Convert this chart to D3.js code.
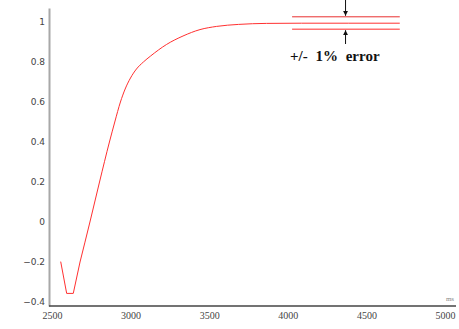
<!DOCTYPE html>
<html>
<head>
<meta charset="utf-8">
<script src="https://cdn.jsdelivr.net/npm/d3@7"></script>
<style>
  body { margin: 0; background: #fff; }
  svg { display: block; }
</style>
</head>
<body>
<svg id="chart" width="459" height="329"></svg>
<script>
// response curve, time in ms
const times = [2568, 2606, 2648, 2691, 2754, 2815, 2878, 2912, 2948, 2978, 3012, 3050, 3094, 3140, 3242, 3346, 3454, 3560, 3700, 3878, 4100, 4400, 4725]
const values = [-0.198, -0.357, -0.357, -0.2, 0, 0.2, 0.4, 0.5, 0.6, 0.665, 0.72, 0.765, 0.8, 0.83, 0.888, 0.93, 0.962, 0.978, 0.988, 0.993, 0.994, 0.994, 0.994]

// error band
const bandStart = 4040
const bandEnd = 4725
const bandUpper = 1.026
const bandLower = 0.964
const arrowAt = 4380

const xTicks = [2500, 3000, 3500, 4000, 4500, 5000]
const yTicks = [-0.4, -0.2, 0, 0.2, 0.4, 0.6, 0.8, 1]

const svg = d3.select('#chart')

const x = d3.scaleLinear([2500, 5000], [50, 443])
const y = d3.scaleLinear([-0.42, 1.07], [306, 8])

// Y axis
const yAxis = svg.append('g')
  .attr('transform', 'translate(49,0)')
  .call(d3.axisLeft(y).tickValues(yTicks).tickSize(0).tickPadding(4).tickFormat(d3.format('')))
yAxis.select('.domain').attr('stroke', '#a8a8a8').attr('stroke-width', 2)
yAxis.selectAll('text').attr('font-family', 'DejaVu Sans, sans-serif').attr('font-size', 9).attr('fill', '#444')

// X axis
const xAxis = svg.append('g')
  .attr('transform', 'translate(0,306)')
  .call(d3.axisBottom(x).tickValues(xTicks).tickSize(0).tickPadding(6).tickFormat(d3.format('')))
xAxis.select('.domain').attr('d', `M49,0H456`).attr('stroke', '#444').attr('stroke-width', 1.3)
xAxis.selectAll('text').attr('font-family', 'Liberation Serif, serif').attr('font-size', 10).attr('fill', '#444').attr('dx', 2)

svg.append('text')
  .attr('x', 450).attr('y', 301)
  .attr('text-anchor', 'middle')
  .attr('font-family', 'Liberation Serif, serif')
  .attr('font-size', 7)
  .attr('fill', '#888')
  .text('ms')

// curve: sharp dip at the start, smooth rise after it
const pts = times.map((t, i) => [x(t), y(values[i])])
const split = 3
const dip = d3.line()
const rise = d3.line().curve(d3.curveMonotoneX)
svg.append('path')
  .attr('fill', 'none')
  .attr('stroke', '#ff3030')
  .attr('stroke-width', 1)
  .attr('d', dip(pts.slice(0, split + 1)) + rise(pts.slice(split)).replace(/^M/, 'L'))

// error band lines
svg.append('line')
  .attr('x1', x(bandStart)).attr('x2', x(bandEnd))
  .attr('y1', y(bandUpper)).attr('y2', y(bandUpper))
  .attr('stroke', '#e83030').attr('stroke-width', 1)
svg.append('line')
  .attr('x1', x(bandStart)).attr('x2', x(bandEnd))
  .attr('y1', y(bandLower)).attr('y2', y(bandLower))
  .attr('stroke', '#ff7070').attr('stroke-width', 1.5)

// arrows
const defs = svg.append('defs')
defs.append('marker')
  .attr('id', 'arrow')
  .attr('viewBox', '0 0 10 10')
  .attr('refX', 10).attr('refY', 5)
  .attr('markerWidth', 5).attr('markerHeight', 5)
  .attr('orient', 'auto')
  .append('path')
  .attr('d', 'M0,0L10,5L0,10z')
  .attr('fill', '#111')

svg.append('line')
  .attr('x1', x(arrowAt)).attr('x2', x(arrowAt))
  .attr('y1', 0).attr('y2', y(bandUpper) - 1)
  .attr('stroke', '#111').attr('stroke-width', 1)
  .attr('marker-end', 'url(#arrow)')
svg.append('line')
  .attr('x1', x(arrowAt)).attr('x2', x(arrowAt))
  .attr('y1', 44).attr('y2', y(bandLower) + 1)
  .attr('stroke', '#111').attr('stroke-width', 1)
  .attr('marker-end', 'url(#arrow)')

svg.append('text')
  .attr('x', 290).attr('y', 61)
  .attr('font-family', 'Liberation Serif, serif')
  .attr('font-weight', 'bold')
  .attr('font-size', 15)
  .attr('word-spacing', 4)
  .attr('fill', '#111')
  .text('+/- 1% error')
</script>
</body>
</html>
